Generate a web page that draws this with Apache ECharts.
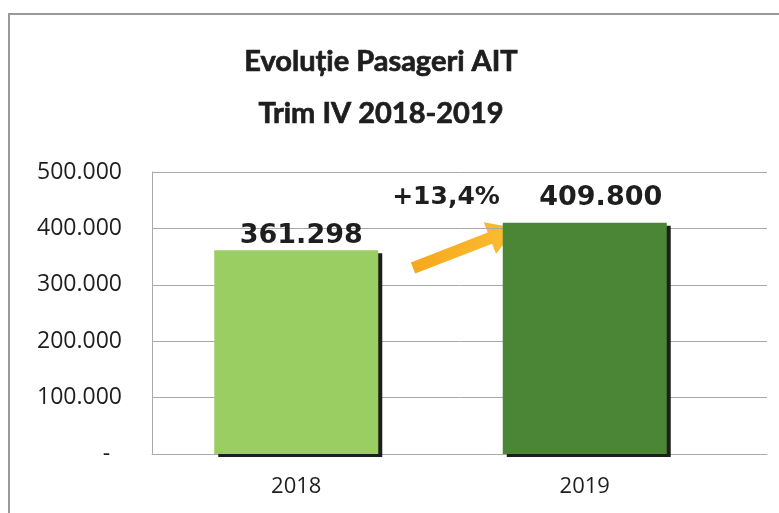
<!DOCTYPE html>
<html>
<head>
<meta charset="utf-8">
<script src="https://cdn.jsdelivr.net/npm/echarts@6/dist/echarts.min.js"></script>
<style>
  html, body { margin: 0; padding: 0; background: #fff; }
  #chart { width: 779px; height: 513px; }
</style>
</head>
<body>
<div id="chart"></div>
<script>
const years = ['2018', '2019']
const passengers = [361298, 409800]
const barColors = ['#9bce62', '#4b8636']
const growthLabel = '+13,4%'

const fmt = v => v === 0 ? '-  ' : String(v).replace(/\B(?=(\d{3})+(?!\d))/g, '.')

const chart = echarts.init(document.getElementById('chart'))

// arrow drawn as polygon between two points
const arrowShape = (x1, y1, x2, y2) => {
  const dx = x2 - x1, dy = y2 - y1
  const len = Math.hypot(dx, dy)
  const ux = dx / len, uy = dy / len
  const nx = -uy, ny = ux
  const shaft = 6, head = 17, headLen = 28
  const bx = x2 - ux * headLen, by = y2 - uy * headLen
  return [
    [x1 + nx * shaft, y1 + ny * shaft],
    [bx + nx * shaft, by + ny * shaft],
    [bx + nx * head, by + ny * head],
    [x2, y2],
    [bx - nx * head, by - ny * head],
    [bx - nx * shaft, by - ny * shaft],
    [x1 - nx * shaft, y1 - ny * shaft]
  ]
}

const titleStyle = {
  fontFamily: 'Lato',
  fontWeight: 'bold',
  fontSize: 29,
  fill: '#1e1e1e',
  stroke: '#1e1e1e',
  lineWidth: 0.7,
  align: 'center',
  verticalAlign: 'middle'
}

const option = {
  backgroundColor: '#fff',
  animation: false,
  grid: [
    { left: 152, right: 12, top: 172, bottom: 59 },
    { left: 152, right: 50, top: 172, bottom: 59 }
  ],
  xAxis: [
    {
      type: 'category', gridIndex: 0, data: years,
      axisLine: { lineStyle: { color: '#aaa' } },
      axisTick: { show: false }, axisLabel: { show: false }
    },
    {
      type: 'category', gridIndex: 1, data: years,
      axisLine: { show: false }, axisTick: { show: false },
      axisLabel: { fontFamily: 'Open Sans', fontSize: 22, color: '#1e1e1e', margin: 22 }
    }
  ],
  yAxis: [
    {
      type: 'value', gridIndex: 0, min: 0, max: 500000, interval: 100000,
      axisLine: { show: true, lineStyle: { color: '#aaa' } },
      axisTick: { show: false },
      splitLine: { lineStyle: { color: '#a8a8a8', width: 1 } },
      axisLabel: { formatter: fmt, fontFamily: 'Open Sans', fontSize: 23, color: '#1e1e1e', margin: 30 }
    },
    {
      type: 'value', gridIndex: 1, min: 0, max: 500000, interval: 100000,
      show: false
    }
  ],
  series: [{
    type: 'bar',
    xAxisIndex: 1,
    yAxisIndex: 1,
    barWidth: 164,
    data: passengers.map((v, i) => ({
      value: v,
      itemStyle: { color: barColors[i] },
      label: i === 0
        ? { offset: [5, 0], distance: 1 }
        : { offset: [16, 0], distance: 11 }
    })),
    itemStyle: {
      shadowColor: '#1e1e1e',
      shadowOffsetX: 4,
      shadowOffsetY: 3,
      shadowBlur: 0
    },
    label: {
      show: true,
      position: 'top',
      formatter: p => fmt(p.value),
      fontFamily: 'DejaVu Sans',
      fontWeight: 'bold',
      fontSize: 27,
      color: '#1e1e1e'
    }
  }],
  graphic: [
    {
      type: 'rect',
      shape: { x: 9, y: 14, width: 820, height: 560 },
      style: { fill: 'none', stroke: '#999', lineWidth: 2 },
      silent: true
    },
    { type: 'text', x: 381, y: 62, style: Object.assign({ text: 'Evoluție Pasageri AIT' }, titleStyle) },
    { type: 'text', x: 381, y: 114, style: Object.assign({ text: 'Trim IV 2018-2019' }, titleStyle) },
    {
      type: 'text',
      x: 446, y: 197,
      style: {
        text: growthLabel,
        fontFamily: 'DejaVu Sans',
        fontWeight: 'bold',
        fontSize: 25,
        fill: '#1e1e1e',
        align: 'center',
        verticalAlign: 'middle'
      }
    },
    {
      type: 'polygon',
      shape: { points: arrowShape(413, 268, 516, 228) },
      style: {
        fill: new echarts.graphic.LinearGradient(0, 0, 1, 0, [
          { offset: 0, color: '#f6a81c' },
          { offset: 1, color: '#fbbd33' }
        ])
      }
    }
  ]
}

chart.setOption(option)
window.addEventListener('resize', () => chart.resize())
</script>
</body>
</html>
